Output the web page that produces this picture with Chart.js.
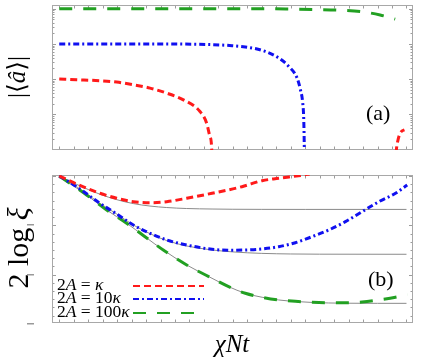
<!DOCTYPE html>
<html>
<head>
<meta charset="utf-8">
<script src="https://cdn.jsdelivr.net/npm/chart.js@4.4.1/dist/chart.umd.min.js"></script>
<style>
html,body{margin:0;padding:0;background:#fff;}
#wrap{position:relative;width:424px;height:363px;overflow:hidden;}
canvas{position:absolute;left:0;}
</style>
</head>
<body>
<div id="wrap">
<canvas id="topChart" width="424" height="163" style="top:0px"></canvas>
<canvas id="botChart" width="424" height="200" style="top:163px"></canvas>
</div>
<script>
// x ticks (chi N t), shared by both panels
const xTicks = [];
for (let i = 0; i <= 24; i++) xTicks.push(i);

// panel (a): |<a>| on a log axis
const redAx = [0, 1.2, 2.81, 3.97, 5.12, 6.27, 7.43, 8.58, 9.73, 10.19, 10.42, 10.54, 10.6, null, 23.25, 23.31, 23.86];
const redAy = [0.01, 0.00955, 0.00894, 0.0082, 0.00687, 0.00553, 0.00398, 0.00256, 0.00119, 0.000553, 0.000229, 0.000095, 0.000001, null, 0.000001, 0.000107, 0.000356];
const blueAx = [0, 6.27, 10.56, 11.94, 12.86, 14.02, 15.17, 15.86, 16.44, 16.67, 16.83, 16.9, 16.94, 16.99];
const blueAy = [0.1, 0.1, 0.0955, 0.0894, 0.082, 0.0656, 0.0398, 0.0229, 0.0107, 0.00494, 0.00206, 0.000687, 0.000095, 0.000001];
const greenAx = [0, 5, 10.56, 14.48, 15.86, 17.71, 19.55, 21.16, 22.18, 23.22];
const greenAy = [1, 1, 1, 1, 0.986, 0.955, 0.912, 0.8, 0.665, 0.51];

// panel (b): 2 log xi
const redBx = [0, 1.2, 2.81, 3.97, 5.12, 6.27, 7.43, 8.81, 10.56, 12.63, 14.02, 15.17, 16.9, 17.3];
const redBy = [0, -0.162, -0.351, -0.452, -0.521, -0.542, -0.521, -0.452, -0.351, -0.217, -0.095, -0.047, 0.02, 0.04];
const blueBx = [0, 1.2, 2.81, 3.97, 5.12, 6.27, 7.43, 8.81, 10.56, 11.94, 12.86, 14.02, 15.17, 16.32, 17.48, 18.63, 19.78, 20.93, 22.09, 23.24, 24.05];
const blueBy = [0, -0.217, -0.554, -0.771, -0.994, -1.162, -1.298, -1.4, -1.487, -1.507, -1.501, -1.481, -1.434, -1.353, -1.231, -1.095, -0.927, -0.724, -0.521, -0.351, -0.183];
const greenBx = [0, 1.89, 3.28, 4.66, 7.19, 8.81, 10.56, 11.71, 12.86, 14.02, 15.17, 16.32, 17.48, 18.63, 19.78, 20.93, 22.09, 23.24, 24.05];
const greenBy = [0, -0.385, -0.69, -0.959, -1.501, -1.805, -2.075, -2.245, -2.379, -2.46, -2.515, -2.542, -2.562, -2.57, -2.57, -2.556, -2.515, -2.46, -2.4];
// thin gray limits
const gray1x = [0, 1.2, 2.81, 3.97, 5.12, 6.27, 7.43, 8.81, 10.56, 12, 14, 17, 24];
const gray1y = [0, -0.17, -0.37, -0.48, -0.56, -0.61, -0.64, -0.66, -0.67, -0.675, -0.677, -0.678, -0.678];
const gray2x = [0, 1.2, 2.81, 3.97, 5.12, 6.27, 7.43, 8.81, 10.56, 12, 14, 16, 18, 24];
const gray2y = [0, -0.217, -0.554, -0.771, -0.994, -1.17, -1.31, -1.42, -1.5, -1.54, -1.57, -1.582, -1.586, -1.588];
const gray3x = [0, 1.89, 3.28, 4.66, 7.19, 8.81, 10.56, 11.71, 12.86, 14.02, 15.17, 16.32, 17.48, 18.63, 20, 22, 24];
const gray3y = [0, -0.385, -0.69, -0.959, -1.501, -1.805, -2.075, -2.245, -2.379, -2.46, -2.515, -2.545, -2.565, -2.576, -2.581, -2.583, -2.583];

const legendLabels = [
  [["2", false], ["A", true], [" = ", false], ["κ", true]],
  [["2", false], ["A", true], [" = 10", false], ["κ", true]],
  [["2", false], ["A", true], [" = 100", false], ["κ", true]]
];
const bYLabelVals = [-1, -2, -3];

const RED = "#ff1a1a", BLUE = "#1010f0", GREEN = "#22a022", GRAY = "#8a8a8a";
const FONT = "'Liberation Serif', 'DejaVu Serif', serif";

function pts(xs, ys) {
  return xs.map((x, i) => ({ x: x, y: x === null ? null : ys[i] }));
}

function line(xs, ys, color, dash, w) {
  return {
    data: pts(xs, ys),
    borderColor: color,
    borderWidth: w,
    borderDash: dash,
    pointRadius: 0,
    fill: false,
    cubicInterpolationMode: "monotone",
    spanGaps: false,
    clip: 0
  };
}

// draw pieces of text, some italic, starting at x (left aligned)
function richWidth(ctx, segs, size) {
  let w = 0;
  segs.forEach(s => {
    ctx.font = (s[1] ? "italic " : "") + size + "px " + FONT;
    w += ctx.measureText(s[0]).width;
  });
  return w;
}
function drawRich(ctx, segs, x, y, size, align) {
  let cx = x;
  if (align === "center") cx = x - richWidth(ctx, segs, size) / 2;
  ctx.textBaseline = "middle";
  ctx.textAlign = "left";
  segs.forEach(s => {
    ctx.font = (s[1] ? "italic " : "") + size + "px " + FONT;
    ctx.fillText(s[0], cx, y);
    cx += ctx.measureText(s[0]).width;
  });
}

// frame with inward ticks
const frameTicks = {
  id: "frameTicks",
  beforeDatasetsDraw(chart, args, opts) {
    const ctx = chart.ctx, a = chart.chartArea;
    const xs = chart.scales.x, ys = chart.scales.y;
    ctx.save();
    ctx.strokeStyle = "#9c9c9c";
    ctx.lineWidth = 1;
    ctx.beginPath();
    xTicks.forEach(v => {
      const px = Math.round(xs.getPixelForValue(v)) + 0.5;
      ctx.moveTo(px, a.bottom); ctx.lineTo(px, a.bottom - 3.5);
      ctx.moveTo(px, a.top); ctx.lineTo(px, a.top + 3.5);
    });
    opts.yTicks.forEach(t => {
      const py = Math.round(ys.getPixelForValue(t[0])) + 0.5;
      if (py < a.top || py > a.bottom) return;
      ctx.moveTo(a.left, py); ctx.lineTo(a.left + t[1], py);
      ctx.moveTo(a.right, py); ctx.lineTo(a.right - t[1], py);
    });
    ctx.stroke();
    ctx.strokeStyle = "#a8a8a8";
    ctx.strokeRect(Math.round(a.left) + 0.5, Math.round(a.top) + 0.5,
      Math.round(a.right - a.left) - 1, Math.round(a.bottom - a.top) - 1);
    ctx.restore();
  }
};

const textPlugin = {
  id: "textPlugin",
  afterDraw(chart, args, opts) {
    const ctx = chart.ctx, a = chart.chartArea;
    ctx.save();
    ctx.fillStyle = "#000";
    if (opts.yTitle) {
      ctx.save();
      ctx.translate(opts.yTitle.x, opts.yTitle.y);
      ctx.rotate(-Math.PI / 2);
      drawRich(ctx, opts.yTitle.segs, 0, 0, opts.yTitle.size, "center");
      ctx.restore();
    }
    if (opts.xTitle) drawRich(ctx, opts.xTitle.segs, opts.xTitle.x, opts.xTitle.y, opts.xTitle.size, "center");
    if (opts.tag) drawRich(ctx, [[opts.tag.text, false]], opts.tag.x, opts.tag.y, opts.tag.size, "left");
    if (opts.dashLabels) {
      ctx.fillStyle = "#999";
      opts.dashLabels.forEach(v => {
        const py = chart.scales.y.getPixelForValue(v);
        ctx.fillRect(27, Math.round(py) - 1, 7, 1.5);
      });
      ctx.fillStyle = "#000";
    }
    if (opts.legend) {
      opts.legend.forEach((segs, i) => {
        const ds = chart.data.datasets[i];
        const y = opts.legendY[i];
        drawRich(ctx, segs, a.left + 5, y, 17.5, "left");
        ctx.save();
        ctx.strokeStyle = ds.borderColor;
        ctx.lineWidth = 2;
        ctx.setLineDash(ds.borderDash || []);
        ctx.beginPath();
        ctx.moveTo(133, y + 1);
        ctx.lineTo(204, y + 1);
        ctx.stroke();
        ctx.restore();
      });
    }
    ctx.restore();
  }
};

// minor ticks for the log axis
const logTicks = [];
for (let k = -4; k <= 0; k++) {
  for (let m = 1; m <= 9; m++) logTicks.push([m * Math.pow(10, k), m === 1 ? 4 : 2.5]);
}
const linTicks = [];
for (let k = 0; k >= -18; k--) linTicks.push([k / 6, k % 6 === 0 ? 4 : 2.5]);

const hiddenX = {
  type: "linear", min: -0.5, max: 24.45,
  ticks: { display: false }, grid: { display: false, drawTicks: false }, border: { display: false }
};

new Chart(document.getElementById("topChart"), {
  type: "line",
  data: {
    datasets: [
      line(greenAx, greenAy, GREEN, [13, 11], 3),
      line(blueAx, blueAy, BLUE, [6, 3, 2, 3], 3),
      line(redAx, redAy, RED, [7, 4], 3)
    ]
  },
  options: {
    responsive: false,
    animation: false,
    devicePixelRatio: 1,
    layout: { padding: { left: 52, right: 11, top: 5, bottom: 13 } },
    plugins: {
      legend: { display: false },
      tooltip: { enabled: false },
      frameTicks: { yTicks: logTicks },
      textPlugin: {
        yTitle: { x: 18, y: 77, size: 25, segs: [["|⟨", false], ["â", true], ["⟩|", false]] },
        tag: { text: "(a)", x: 366, y: 114, size: 22 }
      }
    },
    scales: {
      x: hiddenX,
      y: {
        type: "logarithmic", min: 0.0000955, max: 1.284,
        ticks: { display: false }, grid: { display: false, drawTicks: false }, border: { display: false }
      }
    }
  },
  plugins: [frameTicks, textPlugin]
});

new Chart(document.getElementById("botChart"), {
  type: "line",
  data: {
    datasets: [
      line(redBx, redBy, RED, [7, 4], 3),
      line(blueBx, blueBy, BLUE, [6, 3, 2, 3], 3),
      line(greenBx, greenBy, GREEN, [13, 11], 3),
      line(gray1x, gray1y, GRAY, [], 1),
      line(gray2x, gray2y, GRAY, [], 1),
      line(gray3x, gray3y, GRAY, [], 1)
    ]
  },
  options: {
    responsive: false,
    animation: false,
    devicePixelRatio: 1,
    layout: { padding: { left: 52, right: 11, top: 12, bottom: 40 } },
    plugins: {
      legend: { display: false },
      tooltip: { enabled: false },
      frameTicks: { yTicks: linTicks },
      textPlugin: {
        yTitle: { x: 20, y: 85, size: 30, segs: [["2 log ", false], ["ξ", true]] },
        xTitle: { x: 232, y: 182, size: 25, segs: [["χNt", true]] },
        tag: { text: "(b)", x: 368, y: 117, size: 22 },
        dashLabels: bYLabelVals,
        legend: legendLabels,
        legendY: [122, 135, 149]
      }
    },
    scales: {
      x: hiddenX,
      y: {
        type: "linear", min: -2.982, max: 0.02,
        ticks: { display: false }, grid: { display: false, drawTicks: false }, border: { display: false }
      }
    }
  },
  plugins: [frameTicks, textPlugin]
});
</script>
</body>
</html>
